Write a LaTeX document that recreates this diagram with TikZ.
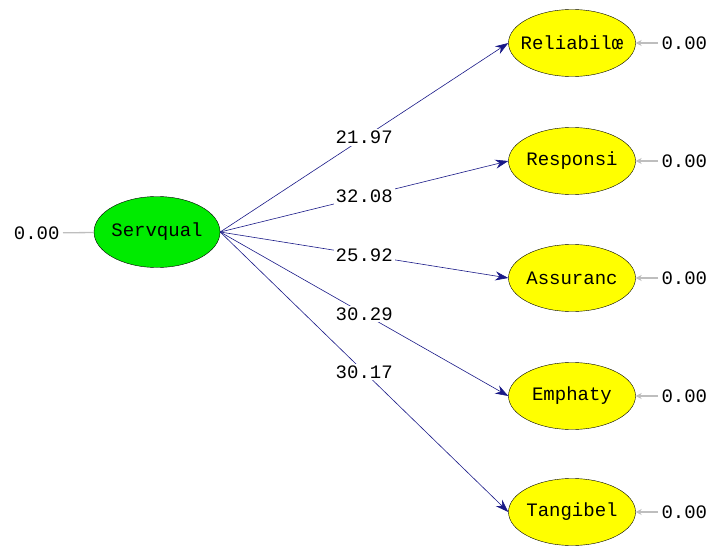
\documentclass[tikz,border=0pt]{standalone}
\usepackage{fontspec}
\setmonofont{Liberation Mono}
\usetikzlibrary{shapes.geometric,arrows.meta}
\definecolor{pathblue}{RGB}{25,25,135}
\definecolor{latgreen}{RGB}{0,235,0}
\definecolor{obsyellow}{RGB}{255,255,0}
\definecolor{errgray}{RGB}{190,190,190}
\tikzset{font={\fontsize{19pt}{21}\selectfont\ttfamily}}
\tikzset{latent/.style={ellipse,draw,thin,fill=latgreen,minimum width=126pt,minimum height=71pt,inner sep=0pt}}
\tikzset{indicator/.style={ellipse,draw,thin,fill=obsyellow,minimum width=127pt,minimum height=67pt,inner sep=0pt}}
\tikzset{arrow/.style={draw,-{Stealth[length=13pt,width=9pt]},pathblue,#1}}
\tikzset{arrow/.default={semithick}}
\tikzset{errarrow/.style={draw,-{Stealth[length=6pt,width=6pt]},errgray,line width=1.3pt}}

\begin{document}
\begin{tikzpicture}[x=1pt,y=-1pt]
        \useasboundingbox (0,0) rectangle (718,546);
        \node[latent,label={center:Servqual}] (serv) at (157,232) {};
        \node[anchor=east] (e0) at (63,233) {0.00};
        \path[draw,errgray,line width=1.3pt] (e0) -- (serv);
        \foreach \i\y\name\val in {1/43/Reliabilœ/21.97, 2/161/Responsi/32.08, 3/278/Assuranc/25.92, 4/396/Emphaty/30.29, 5/512/Tangibel/30.17}{
            \node[indicator,label={center:\name}] (o\i) at (572,\y) {};
            \node[anchor=west] (e\i) at (658,\y) {0.00};
            \path[errarrow] (e\i) -- (o\i);
            \path[arrow] (serv.east) -- node[fill=white,text=black,inner sep=2pt] (w\i) {\val} (o\i.west);
        }
    \end{tikzpicture}
\end{document}
